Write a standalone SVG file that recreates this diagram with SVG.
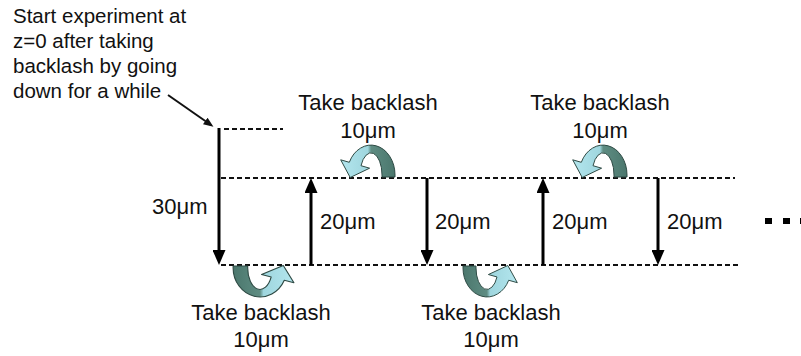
<svg xmlns="http://www.w3.org/2000/svg" width="801" height="356" viewBox="0 0 801 356">
  <style>
    .lbl { font-family: "Liberation Sans", Arial, sans-serif; font-size: 22px; fill: #111; }
    .note { font-family: "Liberation Sans", Arial, sans-serif; font-size: 20.5px; fill: #111; }
    .level { stroke: #111; stroke-width: 2; stroke-dasharray: 5 3; fill: none; }
    .move { stroke: #000; stroke-width: 3; fill: none; marker-end: url(#head); }
    .ptr { stroke: #111; stroke-width: 2; fill: none; marker-end: url(#smallhead); }
    .turn { fill: url(#ribbon); stroke: #2e4a44; stroke-width: 1; stroke-linejoin: round; }
  </style>
  <defs>
    <marker id="head" markerUnits="userSpaceOnUse" markerWidth="15" markerHeight="13" refX="5" refY="6.5" orient="auto">
      <path d="M0,0 L15,6.5 L0,13 Z" fill="#000"/>
    </marker>
    <marker id="smallhead" markerUnits="userSpaceOnUse" markerWidth="10" markerHeight="8" refX="7" refY="4" orient="auto">
      <path d="M0,0 L10,4 L0,8 Z" fill="#111"/>
    </marker>
    <linearGradient id="ribbon" x1="0" y1="0" x2="1" y2="0">
      <stop offset="0" stop-color="#b3e6ee"/>
      <stop offset="0.5" stop-color="#9fd6de"/>
      <stop offset="0.56" stop-color="#5e8c82"/>
      <stop offset="1" stop-color="#4b776d"/>
    </linearGradient>
    <!-- half-turn ribbon arrow, base centred on the origin, arching upward -->
    <path id="halfturn" class="turn" d="M24,0 L24,-2 A24,30 0 0 0 -21.7,-14.7 L-30.3,-17.2 L-20.8,0.5 L-1.4,-8.8 L-10,-11.3 A11,22 0 0 1 11,-2 L11,0 Z"/>
  </defs>

  <!-- height levels -->
  <g id="levels">
    <line class="level" x1="224" y1="129" x2="283" y2="129"/>
    <line class="level" x1="221" y1="178" x2="735" y2="178"/>
    <line class="level" x1="221" y1="265" x2="741" y2="265"/>
  </g>

  <!-- stage moves -->
  <g id="connectors">
    <line class="move" x1="219" y1="128" x2="219" y2="255"/>
    <line class="move" x1="311" y1="265" x2="311" y2="188"/>
    <line class="move" x1="427" y1="178" x2="427" y2="255"/>
    <line class="move" x1="543" y1="265" x2="543" y2="188"/>
    <line class="move" x1="658" y1="178" x2="658" y2="255"/>
    <line class="ptr" x1="168" y1="95" x2="211" y2="125"/>
  </g>

  <g id="start-note">
    <text class="note" x="13" y="23">Start experiment at</text>
    <text class="note" x="13" y="48">z=0 after taking</text>
    <text class="note" x="13" y="73">backlash by going</text>
    <text class="note" x="13" y="98">down for a while</text>
  </g>

  <g id="move-30">
    <text class="lbl" x="152" y="214">30μm</text>
  </g>
  <g id="move-up-1"><text class="lbl" x="320" y="229">20μm</text></g>
  <g id="move-down-1"><text class="lbl" x="435" y="229">20μm</text></g>
  <g id="move-up-2"><text class="lbl" x="552" y="229">20μm</text></g>
  <g id="move-down-2"><text class="lbl" x="667" y="229">20μm</text></g>

  <g id="backlash-top-1">
    <use href="#halfturn" transform="translate(371,177)"/>
    <text class="lbl" x="368" y="110" text-anchor="middle">Take backlash</text>
    <text class="lbl" x="368" y="138" text-anchor="middle">10μm</text>
  </g>
  <g id="backlash-top-2">
    <use href="#halfturn" transform="translate(603,177)"/>
    <text class="lbl" x="600" y="110" text-anchor="middle">Take backlash</text>
    <text class="lbl" x="600" y="138" text-anchor="middle">10μm</text>
  </g>
  <g id="backlash-bottom-1">
    <use href="#halfturn" transform="translate(260,266) scale(-1.12,-0.97)"/>
    <text class="lbl" x="261" y="320" text-anchor="middle">Take backlash</text>
    <text class="lbl" x="261" y="347" text-anchor="middle">10μm</text>
  </g>
  <g id="backlash-bottom-2">
    <use href="#halfturn" transform="translate(487,266) scale(-1,-0.97)"/>
    <text class="lbl" x="491" y="320" text-anchor="middle">Take backlash</text>
    <text class="lbl" x="491" y="347" text-anchor="middle">10μm</text>
  </g>

  <g id="continuation">
    <rect x="765" y="218" width="7" height="6" fill="#000"/>
    <rect x="783" y="218" width="7" height="6" fill="#000"/>
    <rect x="800" y="218" width="7" height="6" fill="#000"/>
  </g>
</svg>
